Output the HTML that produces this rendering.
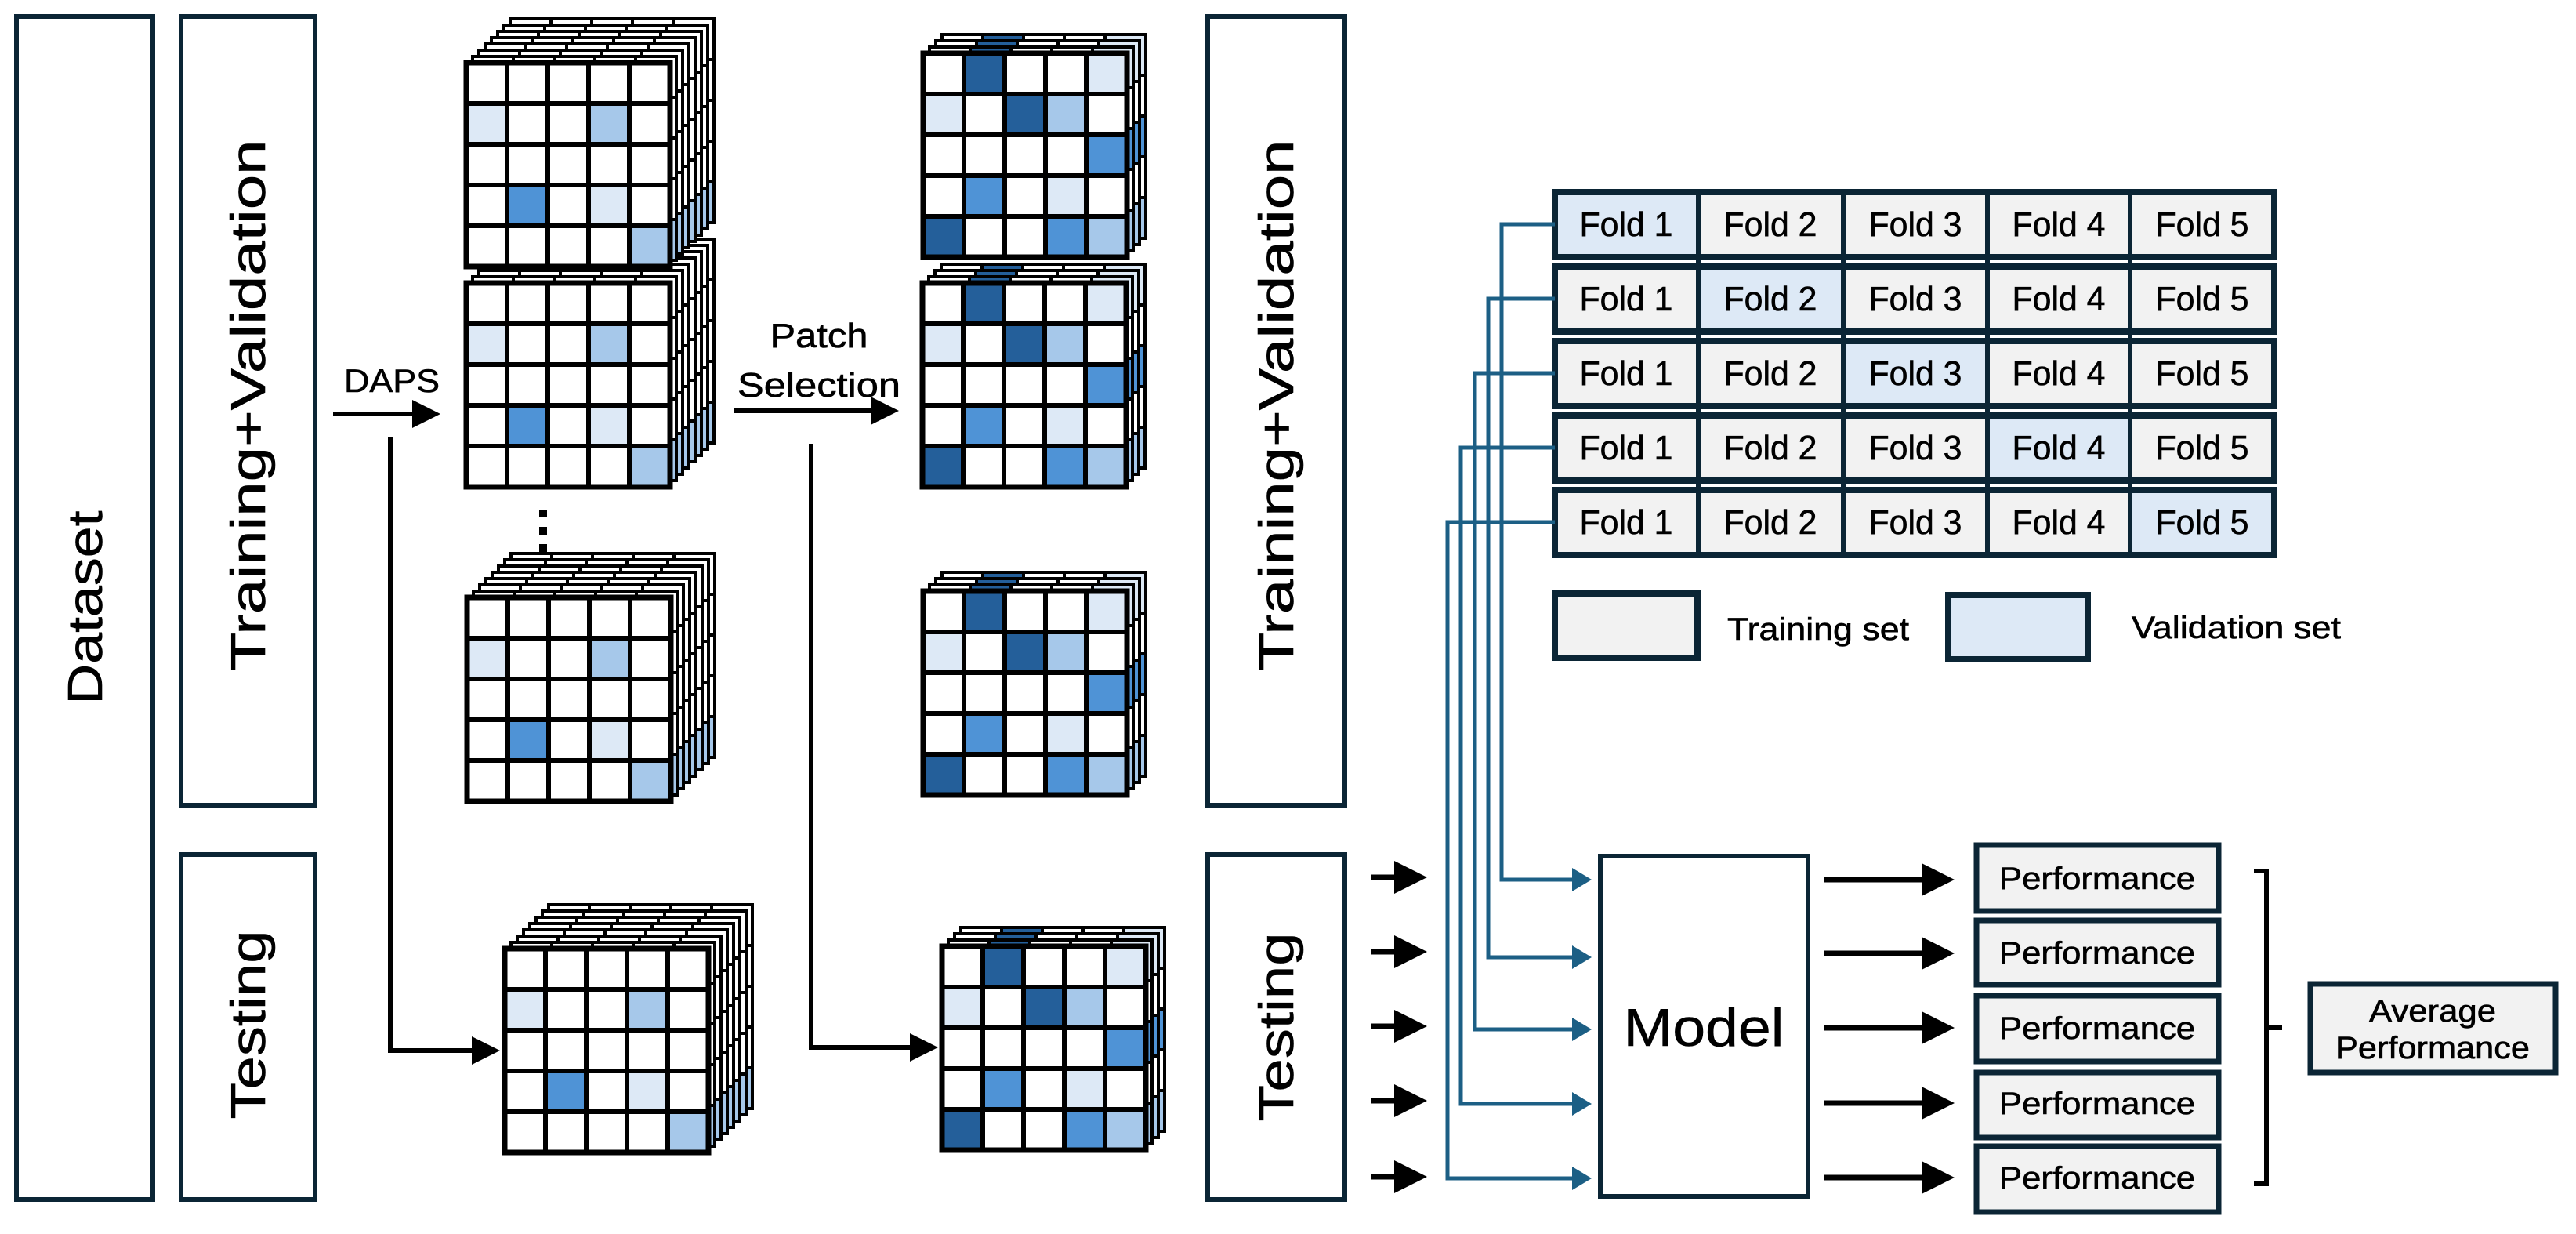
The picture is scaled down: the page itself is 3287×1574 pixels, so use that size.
<!DOCTYPE html>
<html><head><meta charset="utf-8"><style>
html,body{margin:0;padding:0;background:#fff;}
svg{display:block;}
text{font-family:"Liberation Sans Narrow","Liberation Sans",sans-serif;fill:#000;stroke:#000;stroke-width:0.6;}
</style></head><body>
<svg width="3287" height="1574" viewBox="0 0 3287 1574" xmlns="http://www.w3.org/2000/svg">
<defs>
<g id="fA">
<rect x="0" y="0" width="260" height="260" fill="#fff"/>
<rect x="0" y="52" width="52" height="52" fill="#dde9f6"/>
<rect x="156" y="52" width="52" height="52" fill="#a6c8ea"/>
<rect x="52" y="156" width="52" height="52" fill="#4f93d6"/>
<rect x="156" y="156" width="52" height="52" fill="#dde9f6"/>
<rect x="208" y="208" width="52" height="52" fill="#a6c8ea"/>
</g>
<g id="fB">
<rect x="0" y="0" width="260" height="260" fill="#fff"/>
<rect x="52" y="0" width="52" height="52" fill="#245f9a"/>
<rect x="208" y="0" width="52" height="52" fill="#dde9f6"/>
<rect x="0" y="52" width="52" height="52" fill="#dde9f6"/>
<rect x="104" y="52" width="52" height="52" fill="#245f9a"/>
<rect x="156" y="52" width="52" height="52" fill="#a6c8ea"/>
<rect x="208" y="104" width="52" height="52" fill="#4f93d6"/>
<rect x="52" y="156" width="52" height="52" fill="#4f93d6"/>
<rect x="156" y="156" width="52" height="52" fill="#dde9f6"/>
<rect x="0" y="208" width="52" height="52" fill="#245f9a"/>
<rect x="156" y="208" width="52" height="52" fill="#4f93d6"/>
<rect x="208" y="208" width="52" height="52" fill="#a6c8ea"/>
</g>
<path id="grid" d="M52 0V260M104 0V260M156 0V260M208 0V260M0 52H260M0 104H260M0 156H260M0 208H260" fill="none"/>
<g id="gA"><use href="#fA"/><use href="#grid" stroke="#000" stroke-width="6"/><rect x="0" y="0" width="260" height="260" fill="none" stroke="#000" stroke-width="7"/></g>
<g id="gB"><use href="#fB"/><use href="#grid" stroke="#000" stroke-width="6"/><rect x="0" y="0" width="260" height="260" fill="none" stroke="#000" stroke-width="7"/></g>
<g id="bA"><use href="#fA"/><use href="#grid" stroke="#000" stroke-width="4"/><rect x="0" y="0" width="260" height="260" fill="none" stroke="#000" stroke-width="4"/></g>
<g id="bB"><use href="#fB"/><use href="#grid" stroke="#000" stroke-width="4"/><rect x="0" y="0" width="260" height="260" fill="none" stroke="#000" stroke-width="4"/></g>
<g id="cubeA">
<use href="#bA" x="56" y="-56"/><use href="#bA" x="48" y="-48"/><use href="#bA" x="40" y="-40"/><use href="#bA" x="32" y="-32"/>
<use href="#bA" x="24" y="-24"/><use href="#bA" x="16" y="-16"/><use href="#bA" x="8" y="-8"/><use href="#gA" x="0" y="0"/>
</g>
<g id="cubeB">
<use href="#bB" x="24" y="-24"/><use href="#bB" x="16" y="-16"/><use href="#bB" x="8" y="-8"/><use href="#gB" x="0" y="0"/>
</g>
<marker id="ab" markerWidth="6" markerHeight="6" refX="5" refY="3" orient="auto" markerUnits="strokeWidth"><path d="M0,0 L6,3 L0,6 Z" fill="#000"/></marker>
<marker id="at" markerWidth="5" markerHeight="6" refX="4" refY="3" orient="auto" markerUnits="strokeWidth"><path d="M0,0 L5,3 L0,6 Z" fill="#1c5f85"/></marker>
</defs>

<g fill="none" stroke="#0b2535" stroke-width="6">
<rect x="21" y="21" width="174" height="1509"/>
<rect x="231" y="21" width="171" height="1006"/>
<rect x="231" y="1090" width="171" height="440"/>
<rect x="1541" y="21" width="175" height="1006"/>
<rect x="1541" y="1090" width="175" height="440"/>
</g>
<g font-size="62" style="stroke-width:1.2">
<text transform="translate(130,775) rotate(-90)" text-anchor="middle" textLength="247" lengthAdjust="spacingAndGlyphs">Dataset</text>
<text transform="translate(338,517) rotate(-90)" text-anchor="middle" textLength="677" lengthAdjust="spacingAndGlyphs">Training+Validation</text>
<text transform="translate(338,1307) rotate(-90)" text-anchor="middle" textLength="241" lengthAdjust="spacingAndGlyphs">Testing</text>
<text transform="translate(1650,517) rotate(-90)" text-anchor="middle" textLength="677" lengthAdjust="spacingAndGlyphs">Training+Validation</text>
<text transform="translate(1650,1310) rotate(-90)" text-anchor="middle" textLength="241" lengthAdjust="spacingAndGlyphs">Testing</text>
</g>

<use href="#cubeA" x="595" y="361"/>
<use href="#cubeA" x="595" y="80"/>
<use href="#cubeA" x="596" y="762"/>
<use href="#cubeA" x="644" y="1210"/>
<rect x="688" y="650" width="10" height="10" fill="#000"/>
<rect x="688" y="672" width="10" height="10" fill="#000"/>
<rect x="688" y="694" width="10" height="10" fill="#000"/>
<use href="#cubeB" x="1177" y="361"/>
<use href="#cubeB" x="1178" y="68"/>
<use href="#cubeB" x="1178" y="754"/>
<use href="#cubeB" x="1202" y="1207"/>

<g stroke="#000" stroke-width="6" fill="none">
<line x1="425" y1="528" x2="556" y2="528" marker-end="url(#ab)"/>
<polyline points="498,558 498,1340 632,1340" marker-end="url(#ab)"/>
<line x1="936" y1="524" x2="1141" y2="524" marker-end="url(#ab)"/>
<polyline points="1035,566 1035,1336 1191,1336" marker-end="url(#ab)"/>
</g>
<text x="500" y="500" font-size="42" text-anchor="middle" textLength="122" lengthAdjust="spacingAndGlyphs">DAPS</text>
<text x="1045" y="443" font-size="44" text-anchor="middle" textLength="125" lengthAdjust="spacingAndGlyphs">Patch</text>
<text x="1045" y="506" font-size="44" text-anchor="middle" textLength="208" lengthAdjust="spacingAndGlyphs">Selection</text>

<g stroke="#0b2535" stroke-width="8">
<rect x="1984" y="245" width="918" height="83" fill="#f2f2f2"/>
<rect x="1984" y="340" width="918" height="83" fill="#f2f2f2"/>
<rect x="1984" y="435" width="918" height="83" fill="#f2f2f2"/>
<rect x="1984" y="530" width="918" height="83" fill="#f2f2f2"/>
<rect x="1984" y="625" width="918" height="83" fill="#f2f2f2"/>
</g>
<g fill="#dde9f6">
<rect x="1988" y="249" width="177" height="75"/>
<rect x="2169" y="344" width="181" height="75"/>
<rect x="2354" y="439" width="180" height="75"/>
<rect x="2538" y="534" width="178" height="75"/>
<rect x="2720" y="629" width="178" height="75"/>
</g>
<g stroke="#0b2535" stroke-width="6">
<path d="M2167 245V708M2352 245V708M2536 245V708M2718 245V708"/>
</g>
<g font-size="44" text-anchor="middle">
<text x="2075" y="301" textLength="119" lengthAdjust="spacingAndGlyphs">Fold 1</text><text x="2259" y="301" textLength="119" lengthAdjust="spacingAndGlyphs">Fold 2</text><text x="2444" y="301" textLength="119" lengthAdjust="spacingAndGlyphs">Fold 3</text><text x="2627" y="301" textLength="119" lengthAdjust="spacingAndGlyphs">Fold 4</text><text x="2810" y="301" textLength="119" lengthAdjust="spacingAndGlyphs">Fold 5</text>
<text x="2075" y="396" textLength="119" lengthAdjust="spacingAndGlyphs">Fold 1</text><text x="2259" y="396" textLength="119" lengthAdjust="spacingAndGlyphs">Fold 2</text><text x="2444" y="396" textLength="119" lengthAdjust="spacingAndGlyphs">Fold 3</text><text x="2627" y="396" textLength="119" lengthAdjust="spacingAndGlyphs">Fold 4</text><text x="2810" y="396" textLength="119" lengthAdjust="spacingAndGlyphs">Fold 5</text>
<text x="2075" y="491" textLength="119" lengthAdjust="spacingAndGlyphs">Fold 1</text><text x="2259" y="491" textLength="119" lengthAdjust="spacingAndGlyphs">Fold 2</text><text x="2444" y="491" textLength="119" lengthAdjust="spacingAndGlyphs">Fold 3</text><text x="2627" y="491" textLength="119" lengthAdjust="spacingAndGlyphs">Fold 4</text><text x="2810" y="491" textLength="119" lengthAdjust="spacingAndGlyphs">Fold 5</text>
<text x="2075" y="586" textLength="119" lengthAdjust="spacingAndGlyphs">Fold 1</text><text x="2259" y="586" textLength="119" lengthAdjust="spacingAndGlyphs">Fold 2</text><text x="2444" y="586" textLength="119" lengthAdjust="spacingAndGlyphs">Fold 3</text><text x="2627" y="586" textLength="119" lengthAdjust="spacingAndGlyphs">Fold 4</text><text x="2810" y="586" textLength="119" lengthAdjust="spacingAndGlyphs">Fold 5</text>
<text x="2075" y="681" textLength="119" lengthAdjust="spacingAndGlyphs">Fold 1</text><text x="2259" y="681" textLength="119" lengthAdjust="spacingAndGlyphs">Fold 2</text><text x="2444" y="681" textLength="119" lengthAdjust="spacingAndGlyphs">Fold 3</text><text x="2627" y="681" textLength="119" lengthAdjust="spacingAndGlyphs">Fold 4</text><text x="2810" y="681" textLength="119" lengthAdjust="spacingAndGlyphs">Fold 5</text>
</g>

<rect x="1984" y="757" width="182" height="82" fill="#f2f2f2" stroke="#0b2535" stroke-width="8"/>
<rect x="2486" y="759" width="178" height="82" fill="#dde9f6" stroke="#0b2535" stroke-width="8"/>
<text x="2204" y="816" font-size="40" textLength="232" lengthAdjust="spacingAndGlyphs">Training set</text>
<text x="2720" y="814" font-size="40" textLength="267" lengthAdjust="spacingAndGlyphs">Validation set</text>

<g stroke="#1c5f85" stroke-width="5" fill="none">
<polyline points="1984,286 1916,286 1916,1122 2026,1122" marker-end="url(#at)"/>
<polyline points="1984,381 1899,381 1899,1221 2026,1221" marker-end="url(#at)"/>
<polyline points="1984,476 1882,476 1882,1313 2026,1313" marker-end="url(#at)"/>
<polyline points="1984,571 1864,571 1864,1408 2026,1408" marker-end="url(#at)"/>
<polyline points="1984,666 1847,666 1847,1503 2026,1503" marker-end="url(#at)"/>
</g>

<g stroke="#000" stroke-width="7" fill="none">
<line x1="1749" y1="1119" x2="1814" y2="1119" marker-end="url(#ab)"/>
<line x1="1749" y1="1214" x2="1814" y2="1214" marker-end="url(#ab)"/>
<line x1="1749" y1="1309" x2="1814" y2="1309" marker-end="url(#ab)"/>
<line x1="1749" y1="1404" x2="1814" y2="1404" marker-end="url(#ab)"/>
<line x1="1749" y1="1501" x2="1814" y2="1501" marker-end="url(#ab)"/>
<line x1="2328" y1="1122" x2="2487" y2="1122" marker-end="url(#ab)"/>
<line x1="2328" y1="1216" x2="2487" y2="1216" marker-end="url(#ab)"/>
<line x1="2328" y1="1311" x2="2487" y2="1311" marker-end="url(#ab)"/>
<line x1="2328" y1="1407" x2="2487" y2="1407" marker-end="url(#ab)"/>
<line x1="2328" y1="1502" x2="2487" y2="1502" marker-end="url(#ab)"/>
</g>

<rect x="2042" y="1092" width="265" height="434" fill="#fff" stroke="#0b2535" stroke-width="6"/>
<text x="2174" y="1334" font-size="68" text-anchor="middle" textLength="205" lengthAdjust="spacingAndGlyphs">Model</text>

<g fill="#f2f2f2" stroke="#0b2535" stroke-width="7">
<rect x="2522" y="1078" width="309" height="84"/>
<rect x="2522" y="1174" width="309" height="82"/>
<rect x="2522" y="1270" width="309" height="84"/>
<rect x="2522" y="1368" width="309" height="83"/>
<rect x="2522" y="1462" width="309" height="84"/>
</g>
<g font-size="40" text-anchor="middle">
<text x="2676" y="1134" textLength="250" lengthAdjust="spacingAndGlyphs">Performance</text>
<text x="2676" y="1229" textLength="250" lengthAdjust="spacingAndGlyphs">Performance</text>
<text x="2676" y="1325" textLength="250" lengthAdjust="spacingAndGlyphs">Performance</text>
<text x="2676" y="1421" textLength="250" lengthAdjust="spacingAndGlyphs">Performance</text>
<text x="2676" y="1516" textLength="250" lengthAdjust="spacingAndGlyphs">Performance</text>
</g>

<path d="M2876 1111 H2892 V1510 H2876 M2892 1311 H2912" stroke="#000" stroke-width="6" fill="none"/>

<rect x="2948" y="1255" width="313" height="113" fill="#f2f2f2" stroke="#0b2535" stroke-width="7"/>
<text x="3104" y="1303" font-size="40" text-anchor="middle" textLength="162" lengthAdjust="spacingAndGlyphs">Average</text>
<text x="3104" y="1350" font-size="40" text-anchor="middle" textLength="248" lengthAdjust="spacingAndGlyphs">Performance</text>
</svg>
</body></html>
